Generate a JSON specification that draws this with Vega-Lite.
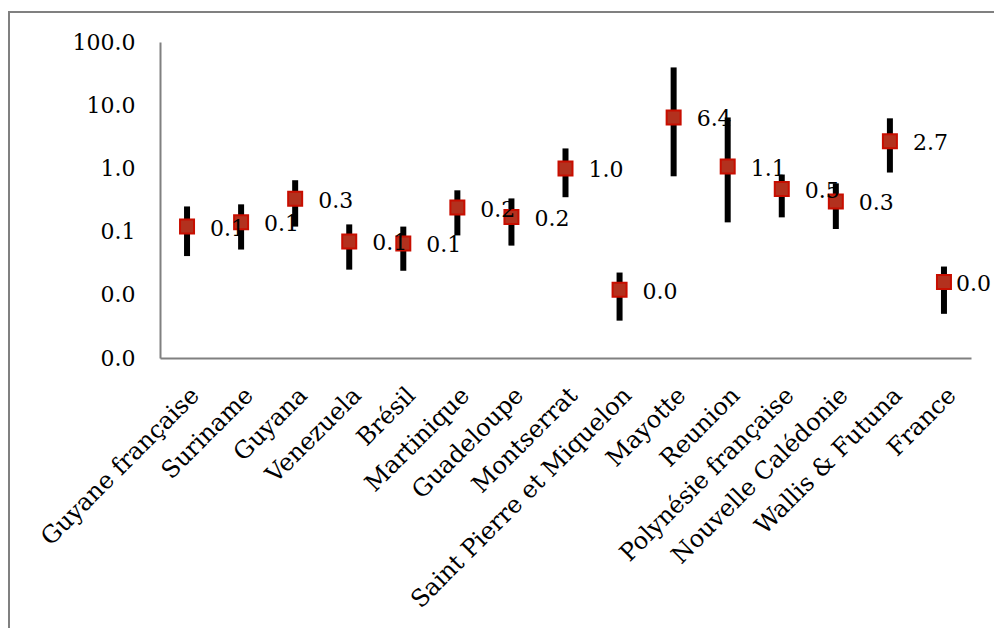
{
  "$schema": "https://vega.github.io/schema/vega-lite/v6.json",
  "width": 1000,
  "height": 630,
  "autosize": {"type": "none"},
  "padding": {"left": 9, "top": 12, "right": 0, "bottom": 0},
  "background": "white",
  "config": {"view": {"stroke": "#808080", "strokeWidth": 2}, "font": "DejaVu Serif"},
  "data": {"values": [
    {"pays": "Guyane française", "v": 0.12, "lo": 0.041, "hi": 0.25},
    {"pays": "Suriname", "v": 0.14, "lo": 0.052, "hi": 0.27},
    {"pays": "Guyana", "v": 0.33, "lo": 0.12, "hi": 0.65},
    {"pays": "Venezuela", "v": 0.07, "lo": 0.025, "hi": 0.13},
    {"pays": "Brésil", "v": 0.065, "lo": 0.024, "hi": 0.12},
    {"pays": "Martinique", "v": 0.24, "lo": 0.087, "hi": 0.45},
    {"pays": "Guadeloupe", "v": 0.17, "lo": 0.06, "hi": 0.335},
    {"pays": "Montserrat", "v": 1.0, "lo": 0.35, "hi": 2.07},
    {"pays": "Saint Pierre et Miquelon", "v": 0.012, "lo": 0.0039, "hi": 0.0225},
    {"pays": "Mayotte", "v": 6.4, "lo": 0.75, "hi": 39.6},
    {"pays": "Reunion", "v": 1.07, "lo": 0.14, "hi": 6.4},
    {"pays": "Polynésie française", "v": 0.47, "lo": 0.168, "hi": 0.8},
    {"pays": "Nouvelle Calédonie", "v": 0.3, "lo": 0.11, "hi": 0.58},
    {"pays": "Wallis & Futuna", "v": 2.7, "lo": 0.86, "hi": 6.2},
    {"pays": "France", "v": 0.016, "lo": 0.005, "hi": 0.028}
  ]},
  "encoding": {
    "x": {
      "field": "pays", "type": "nominal", "sort": null,
      "scale": {"range": [151, 962], "paddingInner": 0, "paddingOuter": 0},
      "axis": {"title": null, "orient": "bottom", "offset": -284, "labelAngle": -45, "labelFont": "DejaVu Serif", "labelFontSize": 24, "labelColor": "black", "ticks": false, "domainColor": "#808080", "domainWidth": 2, "labelPadding": 25, "labelDx": -5, "labelLimit": 500}
    }
  },
  "layer": [
    {
      "mark": {"type": "rule", "color": "black", "strokeWidth": 6},
      "encoding": {
        "y": {"field": "lo", "type": "quantitative",
          "scale": {"type": "log", "domain": [0.001, 100], "range": [346, 30]},
          "axis": {"title": null, "orient": "left", "offset": -151, "format": ".1f", "values": [0.001, 0.01, 0.1, 1, 10, 100], "ticks": false, "grid": false, "domainColor": "#808080", "domainWidth": 2, "labelFont": "DejaVu Serif", "labelFontSize": 22, "labelColor": "black", "labelPadding": 25}},
        "y2": {"field": "hi"}
      }
    },
    {
      "mark": {"type": "square", "size": 196, "filled": true, "fill": "#b3311e", "stroke": "#c80e00", "strokeWidth": 2, "opacity": 1},
      "encoding": {"y": {"field": "v", "type": "quantitative"}}
    },
    {
      "transform": [{"filter": "datum.pays !== 'France'"}],
      "mark": {"type": "text", "align": "left", "baseline": "middle", "dx": 23, "dy": 2, "fontSize": 22, "font": "DejaVu Serif", "color": "black"},
      "encoding": {"y": {"field": "v", "type": "quantitative"}, "text": {"field": "v", "type": "quantitative", "format": ".1f"}}
    },
    {
      "transform": [{"filter": "datum.pays === 'France'"}],
      "mark": {"type": "text", "align": "left", "baseline": "middle", "dx": 12, "dy": 2, "fontSize": 22, "font": "DejaVu Serif", "color": "black"},
      "encoding": {"y": {"field": "v", "type": "quantitative"}, "text": {"field": "v", "type": "quantitative", "format": ".1f"}}
    }
  ]
}
